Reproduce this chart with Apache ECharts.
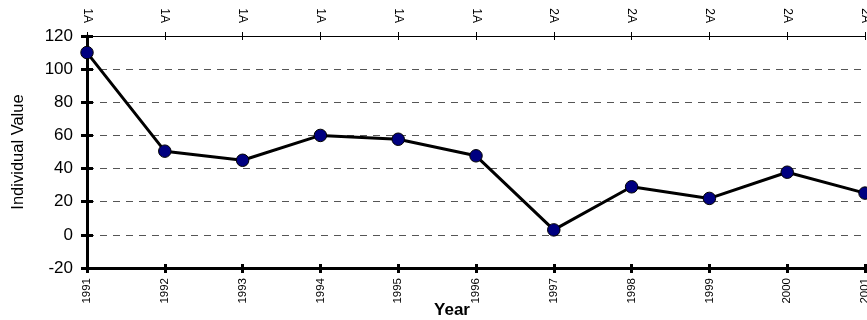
<!DOCTYPE html>
<html>
<head>
<meta charset="utf-8">
<script src="https://cdn.jsdelivr.net/npm/echarts@6/dist/echarts.min.js"></script>
<style>
  html, body { margin: 0; padding: 0; background: #fff; }
  #chart { width: 867px; height: 320px; }
</style>
</head>
<body>
<div id="chart"></div>
<script>
// Yearly individual values with their group codes shown along the top edge
const years = ['1991','1992','1993','1994','1995','1996','1997','1998','1999','2000','2001'];
const groups = ['1A','1A','1A','1A','1A','1A','2A','2A','2A','2A','2A'];
const values = [110, 50.5, 45, 60, 57.7, 47.7, 3, 29, 22, 37.8, 25.2];
const yMin = -20, yMax = 120, yStep = 20;

const FONT = 'Liberation Sans, Arial, sans-serif';
const chart = echarts.init(document.getElementById('chart'));

chart.setOption({
  animation: false,
  grid: { left: 87, right: 2, top: 36, bottom: 52, containLabel: false, outerBoundsMode: 'none' },
  xAxis: [
    { // bottom year axis with outward ticks
      type: 'category', data: years, position: 'bottom', boundaryGap: false,
      axisLine: { show: true, onZero: false, lineStyle: { color: '#000', width: 3 } },
      axisTick: { show: true, length: 5, lineStyle: { color: '#000', width: 3 } },
      axisLabel: { rotate: 90, fontFamily: FONT, fontSize: 11.5, color: '#000', margin: 10 },
      name: 'Year', nameLocation: 'middle', nameGap: 34, nameMoveOverlap: false,
      nameTextStyle: { fontFamily: FONT, fontSize: 17, fontWeight: 'bold', color: '#000', padding: [0, 48, 0, 0] },
      splitLine: { show: false }
    },
    { // inward half of the bottom ticks
      type: 'category', data: years, position: 'bottom', boundaryGap: false,
      axisLine: { show: false, onZero: false },
      axisTick: { show: true, inside: true, length: 4, lineStyle: { color: '#000', width: 3 } },
      axisLabel: { show: false }, splitLine: { show: false }
    },
    { // top group axis
      type: 'category', data: groups, position: 'top', boundaryGap: false,
      axisLine: { show: true, onZero: false, lineStyle: { color: '#000', width: 1 } },
      axisTick: { show: true, length: 4, lineStyle: { color: '#000', width: 1 } },
      axisLabel: { rotate: 90, fontFamily: FONT, fontSize: 12, color: '#000', margin: 13 },
      splitLine: { show: false }
    },
    { // inward half of the top ticks
      type: 'category', data: groups, position: 'top', boundaryGap: false,
      axisLine: { show: false, onZero: false },
      axisTick: { show: true, inside: true, length: 4, lineStyle: { color: '#000', width: 1 } },
      axisLabel: { show: false }, splitLine: { show: false }
    }
  ],
  yAxis: [
    {
      type: 'value', min: yMin, max: yMax, interval: yStep, position: 'left',
      axisLine: { show: true, onZero: false, lineStyle: { color: '#000', width: 3 } },
      axisTick: { show: true, length: 6, lineStyle: { color: '#000', width: 3 } },
      axisLabel: { fontFamily: FONT, fontSize: 17, color: '#000', margin: 14 },
      name: 'Individual Value', nameLocation: 'middle', nameGap: 60, nameRotate: 90, nameMoveOverlap: false,
      nameTextStyle: { fontFamily: FONT, fontSize: 16.5, color: '#000' },
      splitLine: { show: true, lineStyle: { color: '#555', width: 1, type: [7, 6] } }
    },
    { // inward half of the value ticks
      type: 'value', min: yMin, max: yMax, interval: yStep, position: 'left',
      axisLine: { show: false, onZero: false },
      axisTick: { show: true, inside: true, length: 6, lineStyle: { color: '#000', width: 3 } },
      axisLabel: { show: false }, splitLine: { show: false }
    }
  ],
  series: [{
    type: 'line', xAxisIndex: 0, yAxisIndex: 0, data: values,
    symbol: 'circle', symbolSize: 12.5,
    lineStyle: { color: '#000', width: 3 },
    itemStyle: { color: '#000080', borderColor: '#000', borderWidth: 1 },
    z: 5
  }]
});
</script>
</body>
</html>
